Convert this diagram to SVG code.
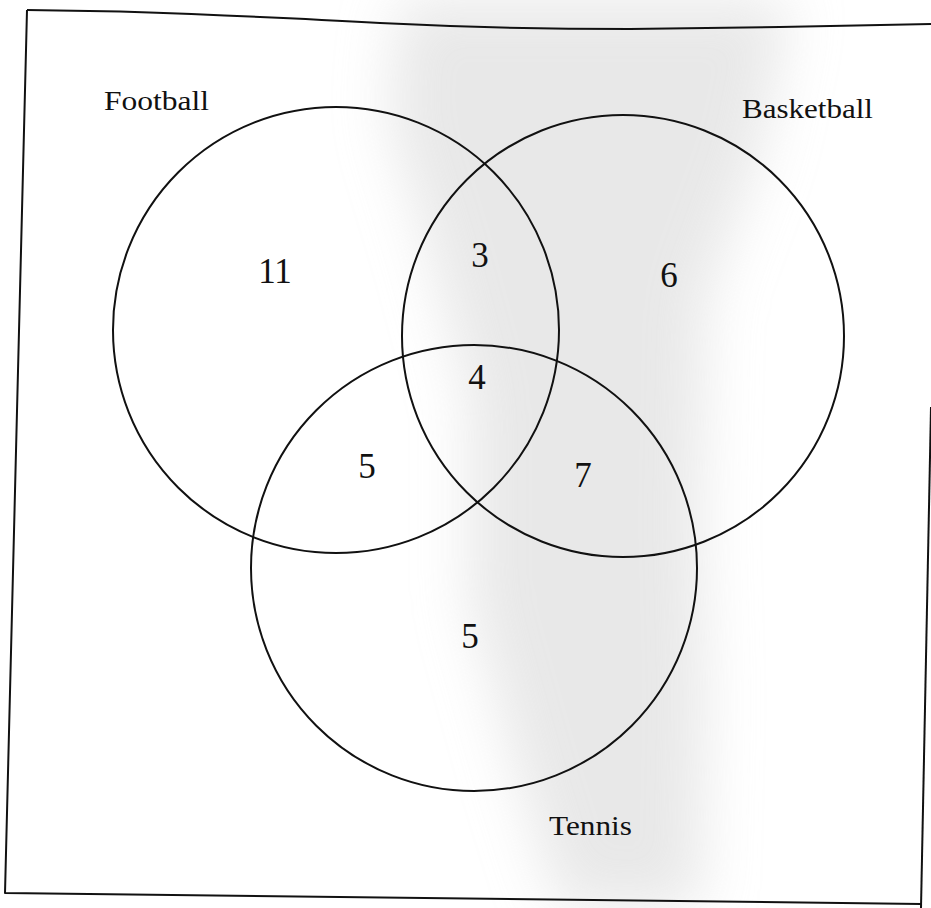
<svg xmlns="http://www.w3.org/2000/svg" width="931" height="908" viewBox="0 0 931 908">
  <style>
    .set { fill: none; stroke: #111; stroke-width: 2; }
    .frame { fill: none; stroke: #111; stroke-width: 2; stroke-linejoin: round; }
    .label { font-family: "Liberation Serif", "Times New Roman", serif; font-size: 28px; fill: #111; }
    .num { font-family: "Liberation Serif", "Times New Roman", serif; font-size: 35px; fill: #111; text-anchor: middle; }
  </style>
  <defs>
    <filter id="soft" x="-30%" y="-10%" width="160%" height="120%">
      <feGaussianBlur stdDeviation="28"/>
    </filter>
  </defs>
  <rect x="0" y="0" width="931" height="908" fill="#ffffff"/>
  <g id="scan-shade" filter="url(#soft)" opacity="0.55">
    <path d="M400,0 L790,0 L760,150 L705,300 L700,520 L705,700 L700,908 L560,908 L520,780 L470,600 L470,400 L430,250 L390,120 Z" fill="#d6d6d6"/>
  </g>
  <g id="frame">
    <path class="frame" d="M27,10 L120,11.5 C250,16 330,20 380,23 C480,28 560,29 630,29 L780,27 L931,24"/>
    <path class="frame" d="M27,10 L5,893 L921,904"/>
    <path class="frame" d="M931,407 L921,908"/>
  </g>
  <g id="football">
    <circle class="set" cx="336" cy="330" r="223"/>
    <text class="label" x="104" y="110" textLength="105" lengthAdjust="spacingAndGlyphs">Football</text>
  </g>
  <g id="basketball">
    <circle class="set" cx="623" cy="336" r="221"/>
    <text class="label" x="742" y="118" textLength="131" lengthAdjust="spacingAndGlyphs">Basketball</text>
  </g>
  <g id="tennis">
    <circle class="set" cx="474" cy="568" r="223"/>
    <text class="label" x="549" y="835" textLength="83" lengthAdjust="spacingAndGlyphs">Tennis</text>
  </g>
  <g id="regions">
    <text class="num" x="275" y="283">11</text>
    <text class="num" x="480" y="267">3</text>
    <text class="num" x="669" y="287">6</text>
    <text class="num" x="477" y="389">4</text>
    <text class="num" x="367" y="478">5</text>
    <text class="num" x="583" y="487">7</text>
    <text class="num" x="470" y="648">5</text>
  </g>
  <g id="connectors"/>
</svg>
